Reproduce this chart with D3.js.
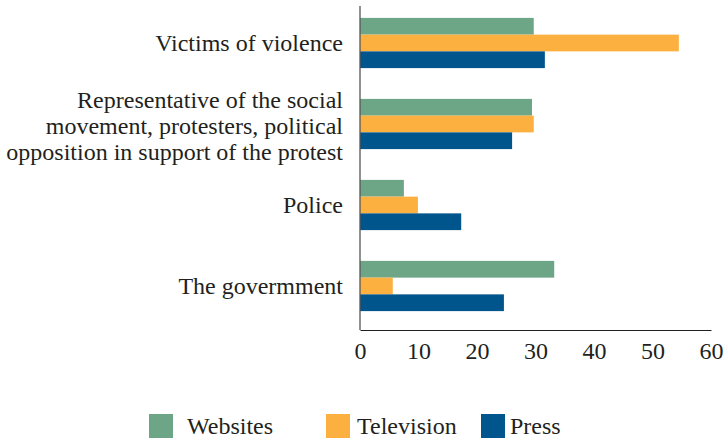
<!DOCTYPE html>
<html><head><meta charset="utf-8">
<script src="https://cdn.jsdelivr.net/npm/d3@7"></script>
<style>body{margin:0;background:#fff}svg{display:block}</style>
</head><body><svg id="c" width="726" height="438"></svg>
<script>
const categories = [
  ["Victims of violence"],
  ["Representative of the social", "movement, protesters, political", "opposition in support of the protest"],
  ["Police"],
  ["The govermment"]
];
const seriesNames = ["Websites", "Television", "Press"];
const websites = [29.7, 29.4, 7.5, 33.2];
const television = [54.5, 29.7, 9.9, 5.6];
const press = [31.6, 26.0, 17.3, 24.6];
const xTicks = [0, 10, 20, 30, 40, 50, 60];
const colors = ["#6da587", "#fcb040", "#00558c"];

const FONT = "Liberation Serif";
const FS = 24;
const values = [websites, television, press];
const svg = d3.select("#c");
const x = d3.scaleLinear().domain([0, 60]).range([360, 711]);
const y = d3.scaleBand().domain(d3.range(categories.length)).range([2.5, 326.5]).paddingInner(0.38).paddingOuter(0.19);
const ySub = d3.scaleBand().domain(d3.range(seriesNames.length)).range([0, y.bandwidth()]);

categories.forEach((c, i) => {
  const g = svg.append("g").attr("transform", `translate(0,${y(i)})`);
  values.forEach((s, j) => {
    g.append("rect").attr("x", x(0)).attr("y", ySub(j))
      .attr("width", x(s[i]) - x(0)).attr("height", ySub.bandwidth())
      .attr("fill", colors[j]);
  });
});

svg.append("line").attr("x1", 360).attr("x2", 360).attr("y1", 6).attr("y2", 330).attr("stroke", "#555").attr("stroke-width", 1.3);
const xAxis = svg.append("g").attr("transform", "translate(0,330)")
  .call(d3.axisBottom(x).tickValues(xTicks).tickSize(0).tickPadding(12))
  .attr("font-family", FONT).attr("font-size", FS);
xAxis.select(".domain").attr("stroke", "#231f20").attr("stroke-width", 1.2);
xAxis.selectAll("text").attr("fill", "#231f20");

const lh = 26;
categories.forEach((lines, i) => {
  const cy = y(i) + y.bandwidth() / 2 + (lines.length > 1 ? 1.5 : 0);
  const t = svg.append("text").attr("text-anchor", "end").attr("font-family", FONT).attr("font-size", FS).attr("fill", "#231f20");
  lines.forEach((l, k) => {
    t.append("tspan").attr("x", 343).attr("y", cy + (k - (lines.length - 1) / 2) * lh).attr("dy", "0.35em").text(l);
  });
});

const legX = [149, 326, 481];
const legTextX = [187, 357, 510];
seriesNames.forEach((n, j) => {
  svg.append("rect").attr("x", legX[j]).attr("y", 414).attr("width", 24).attr("height", 24).attr("fill", colors[j]);
  svg.append("text").attr("x", legTextX[j]).attr("y", 426).attr("dy", "0.35em")
    .attr("font-family", FONT).attr("font-size", FS).attr("fill", "#231f20").text(n);
});
</script></body></html>
